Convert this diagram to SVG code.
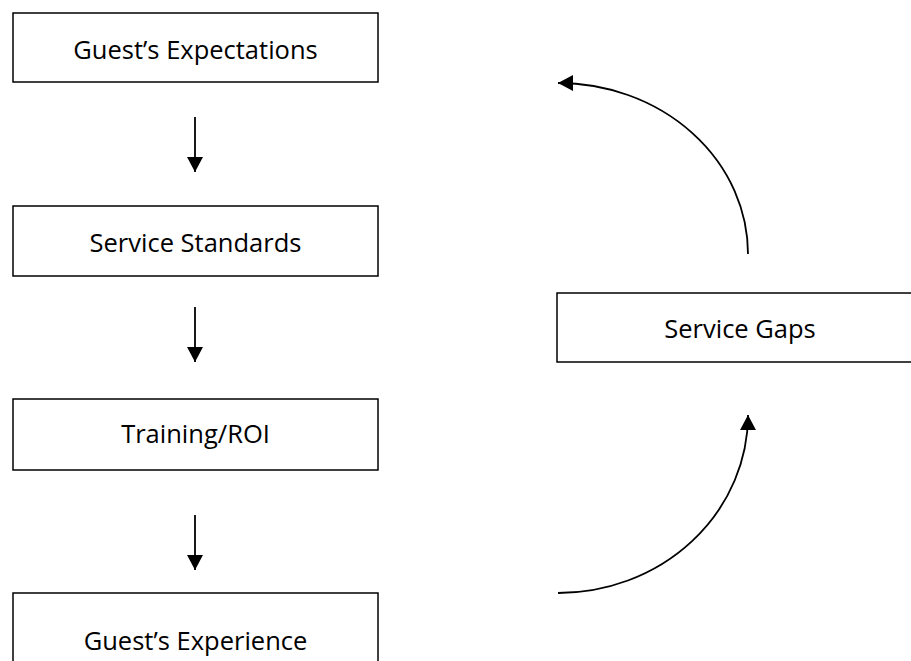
<svg xmlns="http://www.w3.org/2000/svg" width="911" height="661" viewBox="0 0 911 661">
<style>
.box{fill:#fff;stroke:#000;stroke-width:1.5}
.lbl{font-family:"Open Sans","Liberation Sans",sans-serif;font-size:25.5px;fill:#000;text-anchor:middle}
.conn{fill:none;stroke:#000;stroke-width:1.8}
</style>
<defs>
<marker id="ah" markerUnits="userSpaceOnUse" markerWidth="17" markerHeight="17" viewBox="0 0 17 17" refX="15" refY="8.5" orient="auto">
<path d="M0,0.5 L15,8.5 L0,16.5 Z" fill="#000"/>
</marker>
</defs>
<rect width="911" height="661" fill="#fff"/>
<g id="connectors">
<line class="conn" x1="195" y1="117" x2="195" y2="172" marker-end="url(#ah)"/>
<line class="conn" x1="195" y1="307" x2="195" y2="362" marker-end="url(#ah)"/>
<line class="conn" x1="195" y1="515" x2="195" y2="570" marker-end="url(#ah)"/>
<path class="conn" d="M748,254 A190,171 0 0 0 558,83" marker-end="url(#ah)"/>
<path class="conn" d="M558,593 A190,178 0 0 0 748,415" marker-end="url(#ah)"/>
</g>
<g id="guests-expectations">
<rect class="box" x="13" y="13" width="365" height="69"/>
<text class="lbl" x="195.5" y="59">Guest’s Expectations</text>
</g>
<g id="service-standards">
<rect class="box" x="13" y="206" width="365" height="70"/>
<text class="lbl" x="195.5" y="252">Service Standards</text>
</g>
<g id="training-roi">
<rect class="box" x="13" y="399" width="365" height="71"/>
<text class="lbl" x="195.5" y="443">Training/ROI</text>
</g>
<g id="guests-experience">
<rect class="box" x="13" y="593" width="365" height="80"/>
<text class="lbl" x="195.5" y="650">Guest’s Experience</text>
</g>
<g id="service-gaps">
<rect class="box" x="557" y="293" width="370" height="69"/>
<text class="lbl" x="740" y="338">Service Gaps</text>
</g>
</svg>
